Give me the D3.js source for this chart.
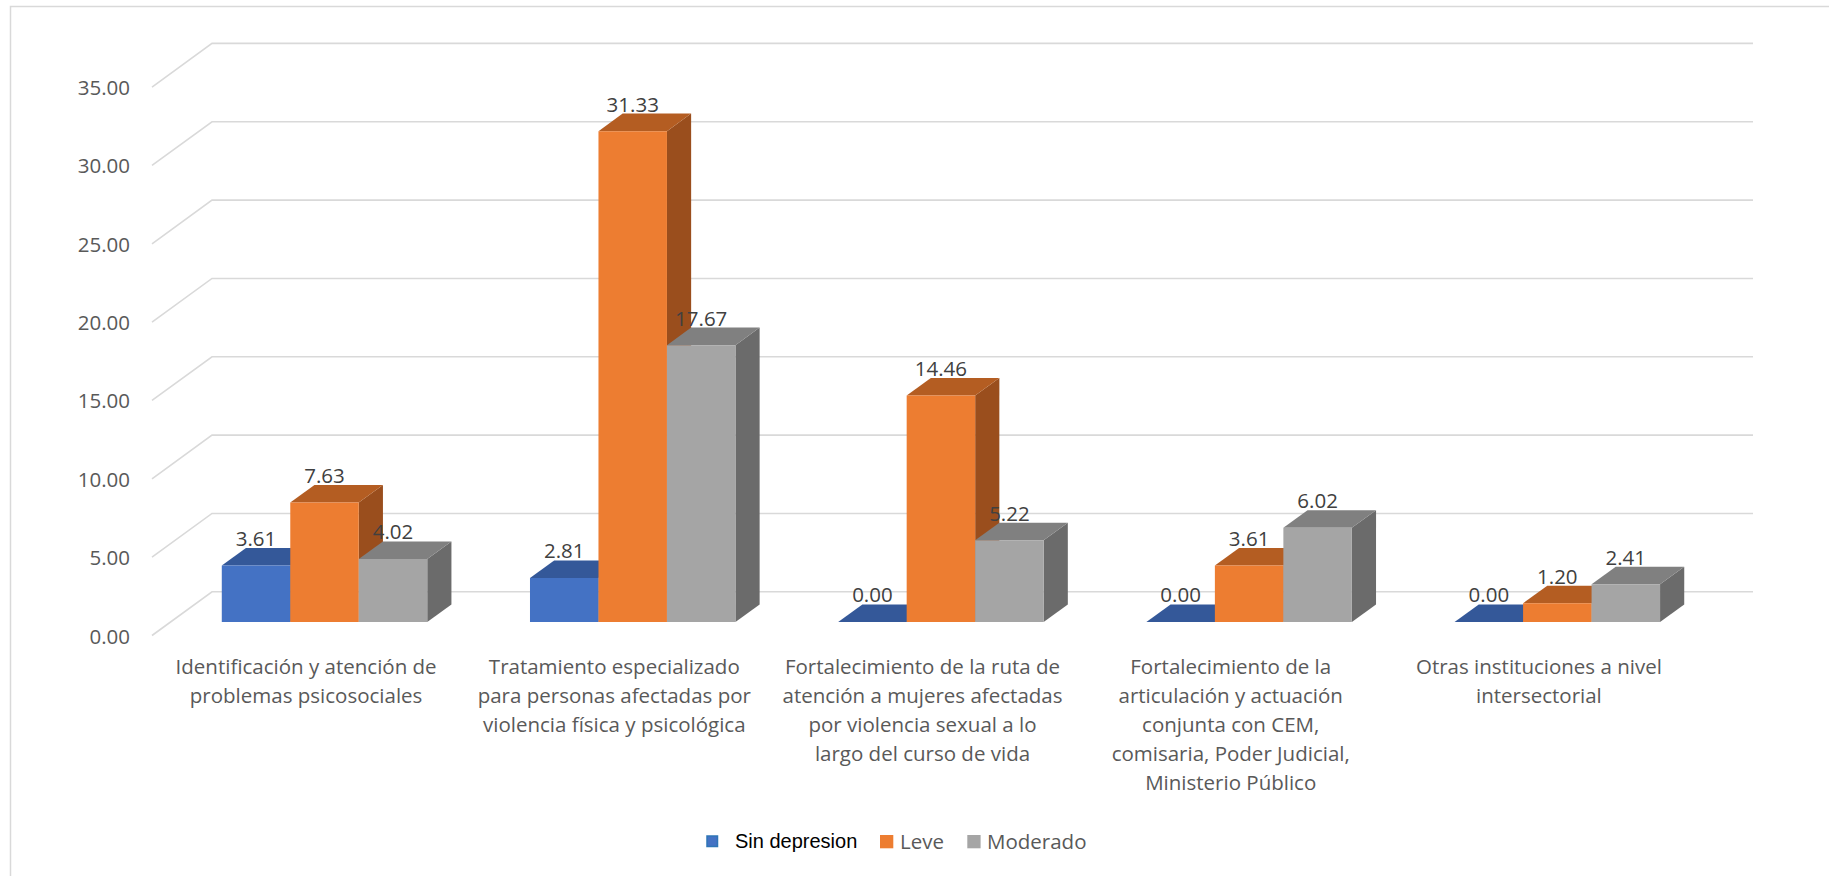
<!DOCTYPE html>
<html>
<head>
<meta charset="utf-8">
<script src="https://cdn.jsdelivr.net/npm/d3@7"></script>
<style>
  html, body { margin: 0; padding: 0; background: #ffffff; }
  svg { display: block; }
</style>
</head>
<body>
<svg id="chart" width="1829" height="876"></svg>
<script>
// ---------------- DATA ----------------
const categories = [
  "Identificación y atención de\nproblemas psicosociales",
  "Tratamiento especializado\npara personas afectadas por\nviolencia física y psicológica",
  "Fortalecimiento de la ruta de\natención a mujeres afectadas\npor violencia sexual a lo\nlargo del curso de vida",
  "Fortalecimiento de la\narticulación y actuación\nconjunta con CEM,\ncomisaria, Poder Judicial,\nMinisterio Público",
  "Otras instituciones a nivel\nintersectorial"
];
const seriesNames = ["Sin depresion", "Leve", "Moderado"];
const sinDepresion = [3.61, 2.81, 0.00, 0.00, 0.00];
const leve         = [7.63, 31.33, 14.46, 3.61, 1.20];
const moderado     = [4.02, 17.67, 5.22, 6.02, 2.41];
const yTicks = [0, 5, 10, 15, 20, 25, 30, 35];

// ---------------- STYLE / LAYOUT ----------------
const seriesValues = [sinDepresion, leve, moderado];
const faceColors = [
  { front: "#4472C4", top: "#345899", side: "#2f528f" },
  { front: "#ED7D31", top: "#B45D22", side: "#9A4E1D" },
  { front: "#A5A5A5", top: "#808080", side: "#6B6B6B" }
];

const svg = d3.select("#chart");

// chart border
svg.append("rect")
  .attr("x", 10.5).attr("y", 6.5)
  .attr("width", 1900).attr("height", 900)
  .attr("fill", "#ffffff").attr("stroke", "#d9d9d9").attr("stroke-width", 1.5);

// 3D box geometry
const frontLeft = 152, frontRight = 1693;
const depthDX = 60, depthDY = -43.7;
const y = d3.scaleLinear().domain([0, 35]).range([635.5, 87.1]);
const x = d3.scaleBand().domain(d3.range(categories.length)).range([frontLeft, frontRight]).paddingInner(0).paddingOuter(0);
const bw = x.bandwidth();
const barW = bw / 4.5;            // gap width 150%
const dFront = 0.307, dBack = 0.71;

function P(px, py, d) { return [px + depthDX * d, py + depthDY * d]; }

// gridlines
const grid = svg.append("g");
yTicks.forEach(v => {
  const a = P(frontLeft, y(v), 0);
  const b = P(frontLeft, y(v), 1);
  const c = P(frontRight, y(v), 1);
  grid.append("path")
    .attr("d", `M${a[0]},${a[1]}L${b[0]},${b[1]}L${c[0]},${c[1]}`)
    .attr("fill", "none").attr("stroke", "#d9d9d9").attr("stroke-width", 1.6);
});

// y tick labels
svg.append("g").selectAll("text").data(yTicks).join("text")
  .attr("x", 130).attr("y", d => y(d))
  .attr("text-anchor", "end").attr("dominant-baseline", "central")
  .attr("font-family", "'Open Sans', sans-serif").attr("font-size", 20.5)
  .attr("fill", "#595959")
  .text(d => d3.format(".2f")(d));

// bars
const bars = svg.append("g");
const labels = [];
categories.forEach((cat, ci) => {
  seriesValues.forEach((vals, si) => {
    const v = vals[ci];
    const x0 = x(ci) + 0.75 * barW + si * barW;
    const x1 = x0 + barW;
    const yb = y(0), yt = y(v);
    const col = faceColors[si];
    const poly = pts => pts.map(p => p.join(",")).join(" ");
    if (v > 0) {
      bars.append("polygon").attr("points", poly([
        P(x1, yb, dFront), P(x1, yb, dBack), P(x1, yt, dBack), P(x1, yt, dFront)
      ])).attr("fill", col.side);
    }
    bars.append("polygon").attr("points", poly([
      P(x0, yt, dFront), P(x0, yt, dBack), P(x1, yt, dBack), P(x1, yt, dFront)
    ])).attr("fill", col.top);
    if (v > 0) {
      bars.append("polygon").attr("points", poly([
        P(x0, yb, dFront), P(x1, yb, dFront), P(x1, yt, dFront), P(x0, yt, dFront)
      ])).attr("fill", col.front);
    }
    const cx = P((x0 + x1) / 2, yt, dFront)[0];
    const ty = P(x0, yt, dBack)[1] - 2;
    labels.push({ x: cx, y: ty, v });
  });
});

// data labels
svg.append("g").selectAll("text").data(labels).join("text")
  .attr("x", d => d.x).attr("y", d => d.y)
  .attr("text-anchor", "middle")
  .attr("font-family", "'Open Sans', sans-serif").attr("font-size", 20.5)
  .attr("fill", "#404040")
  .text(d => d3.format(".2f")(d.v));

// category labels
const catG = svg.append("g");
categories.forEach((cat, ci) => {
  const t = catG.append("text")
    .attr("x", x(ci) + bw / 2).attr("y", 674)
    .attr("text-anchor", "middle")
    .attr("font-family", "'Open Sans', sans-serif").attr("font-size", 20.5)
    .attr("fill", "#595959");
  cat.split("\n").forEach((line, li) => {
    t.append("tspan").attr("x", x(ci) + bw / 2).attr("dy", li === 0 ? 0 : 29).text(line);
  });
});

// legend
const leg = svg.append("g");
leg.append("rect").attr("x", 707).attr("y", 836).attr("width", 10.5).attr("height", 10.5)
  .attr("fill", "#4472C4").attr("stroke", "#2E75B6").attr("stroke-width", 1.5);
leg.append("text").attr("x", 735).attr("y", 848)
  .attr("font-family", "'Liberation Sans', Arial, sans-serif").attr("font-size", 20)
  .attr("fill", "#000000").text(seriesNames[0]);
leg.append("rect").attr("x", 880).attr("y", 835).attr("width", 13.3).attr("height", 13.3)
  .attr("fill", "#ED7D31");
leg.append("text").attr("x", 900).attr("y", 848.5)
  .attr("font-family", "'Open Sans', sans-serif").attr("font-size", 20.5)
  .attr("fill", "#595959").text(seriesNames[1]);
leg.append("rect").attr("x", 967.3).attr("y", 835).attr("width", 13.3).attr("height", 13.3)
  .attr("fill", "#A5A5A5");
leg.append("text").attr("x", 987).attr("y", 848.5)
  .attr("font-family", "'Open Sans', sans-serif").attr("font-size", 20.5)
  .attr("fill", "#595959").text(seriesNames[2]);
</script>
</body>
</html>
